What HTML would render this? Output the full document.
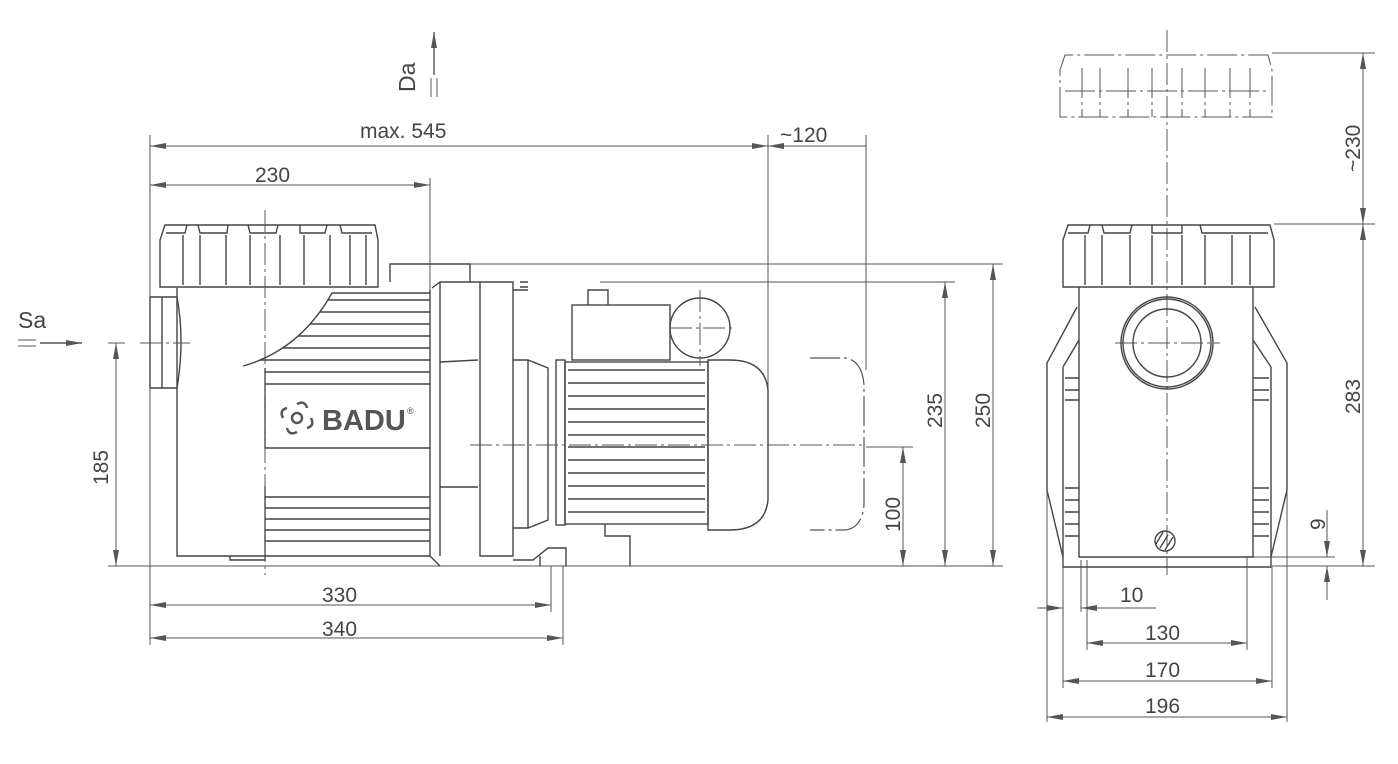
<!DOCTYPE html>
<html><head><meta charset="utf-8"><style>
html,body{margin:0;padding:0;background:#fff}
svg{display:block}
text{font-family:"Liberation Sans",sans-serif;fill:#444;font-size:21px}
</style></head><body>
<svg width="1398" height="764" viewBox="0 0 1398 764" xmlns="http://www.w3.org/2000/svg">
<defs>
<marker id="a" viewBox="0 0 16 6" refX="16" refY="3" markerWidth="16" markerHeight="6" orient="auto-start-reverse" markerUnits="userSpaceOnUse"><path d="M0,0L16,3L0,6z" fill="#555"/></marker>
<clipPath id="vc"><path d="M243,366 Q300,350 332,293 L430,293 L430,560 L243,560 Z"/></clipPath>
</defs>
<g stroke="#555" stroke-width="1" fill="none">
<line x1="150" y1="135" x2="150" y2="645"/>
<line x1="430" y1="178" x2="430" y2="290"/>
<line x1="768" y1="135" x2="768" y2="420"/>
<line x1="866" y1="135" x2="866" y2="370"/>
<line x1="108" y1="566" x2="1003" y2="566"/>
<line x1="470" y1="264" x2="1003" y2="264"/>
<line x1="600" y1="282" x2="955" y2="282"/>
<line x1="866" y1="447" x2="913" y2="447"/>
<line x1="108" y1="343" x2="125" y2="343"/>
<line x1="551" y1="566" x2="551" y2="612"/>
<line x1="563" y1="566" x2="563" y2="645"/>
<line x1="150" y1="146" x2="768" y2="146" marker-start="url(#a)" marker-end="url(#a)"/>
<line x1="866" y1="146" x2="768" y2="146" marker-end="url(#a)"/>
<line x1="150" y1="185" x2="430" y2="185" marker-start="url(#a)" marker-end="url(#a)"/>
<line x1="150" y1="605" x2="551" y2="605" marker-start="url(#a)" marker-end="url(#a)"/>
<line x1="150" y1="638" x2="563" y2="638" marker-start="url(#a)" marker-end="url(#a)"/>
<line x1="116" y1="343" x2="116" y2="566" marker-start="url(#a)" marker-end="url(#a)"/>
<line x1="945" y1="282" x2="945" y2="566" marker-start="url(#a)" marker-end="url(#a)"/>
<line x1="993" y1="264" x2="993" y2="566" marker-start="url(#a)" marker-end="url(#a)"/>
<line x1="903" y1="447" x2="903" y2="566" marker-start="url(#a)" marker-end="url(#a)"/>
<line x1="40" y1="343" x2="82" y2="343" marker-end="url(#a)" stroke-width="1.4"/>
<line x1="18" y1="340" x2="36" y2="340"/><line x1="18" y1="346" x2="36" y2="346"/>
<line x1="434" y1="75" x2="434" y2="32" marker-end="url(#a)" stroke-width="1.4"/>
<line x1="431" y1="78" x2="431" y2="97"/><line x1="437" y1="78" x2="437" y2="97"/>
</g>
<g stroke="#444" stroke-width="1.4" fill="none">
<path d="M160,287 L160,240 L165,225 L375,225 L378,240 L378,287 Z"/>
<path d="M166,233 L185,233 L187,225 M198,225 L200,233 L227,233 L228,225 M248,225 L250,233 L276,233 L278,225 M300,225 L300,233 L325,233 L327,225 M340,225 L342,233 L372,233"/>
<path d="M183,235v50M200,235v50M226,235v50M250,235v50M280,235v50M304,235v50M330,235v50M350,235v50M366,235v50"/>
<path d="M150,297 L177,297 Q185,340 177,388 L150,388 Z"/>
<line x1="162" y1="297" x2="162" y2="388"/>
<path d="M177,288 L177,556 L430,556"/>
<path d="M243,366 Q300,350 332,293 L430,293"/>
<path d="M230,556 L230,560 L265,560 L265,556"/>
<path d="M265,368v80h165M265,486v70"/>
<g clip-path="url(#vc)"><path d="M240,300H430M240,312H430M240,324H430M240,336H430M240,348H430M240,360H430M265,372H430M265,384H430"/></g>
<path d="M265,497H430M265,508H430M265,519H430M265,530H430M265,541H430"/>
<path d="M390,282 L390,264 L470,264 L470,282"/>
<path d="M432,288 L440,282 L513,282 L513,556 L480,556 L480,282 M430,290 L430,556 L440,566"/>
<path d="M440,282 L440,556 M440,362 L478,360 M440,487 L478,487"/>
<path d="M513,290 L528,290 M520,282 h8 M520,287h8 M513,560h20 L548,548 L566,548 L566,566 M540,556v10"/>
<path d="M513,360 L528,360 L548,368 L548,520 L528,528 L513,528 M528,360 L528,528"/>
<rect x="556" y="360" width="9" height="165"/>
<rect x="565" y="362" width="143" height="162"/>
<path d="M568,370H705M568,383H705M568,396H705M568,409H705M568,422H705M568,435H705M568,447H705M568,460H705M568,473H705M568,486H705M568,499H705M568,512H705"/>
<path d="M708,360 L730,360 Q765,360 768,390 L768,500 Q765,530 730,530 L708,530 Z"/>
<rect x="572" y="305" width="98" height="55"/>
<path d="M588,305 L588,290 L608,290 L608,305"/>
<circle cx="700" cy="328" r="30"/>
<path d="M605,524 L605,536 L630,536 L630,566"/>
</g>
<path d="M810,358 L845,358 Q862,360 864,385 L864,505 Q862,528 845,530 L810,530" stroke="#555" stroke-width="1.2" fill="none" stroke-dasharray="30 4 3 4"/>
<g stroke="#555" stroke-width="1" fill="none" stroke-dasharray="22 4 3 4">
<line x1="265" y1="210" x2="265" y2="575"/>
<line x1="140" y1="343" x2="190" y2="343"/>
<line x1="470" y1="445" x2="866" y2="445"/>
<line x1="700" y1="290" x2="700" y2="366"/>
<line x1="670" y1="328" x2="736" y2="328"/>
<line x1="1167" y1="30" x2="1167" y2="575"/>
<line x1="1115" y1="343" x2="1220" y2="343"/>
</g>
<text x="322" y="430" style="font-size:29px;font-weight:bold;fill:#555">BADU</text>
<text x="407" y="414" style="font-size:9px">®</text>
<g stroke="#555" stroke-width="2.5" fill="none">
<circle cx="297" cy="418" r="5"/>
<path d="M297,404 q8,-4 10,4 M311,418 q4,8 -4,10 M297,432 q-8,4 -10,-4 M283,418 q-4,-8 4,-10"/>
</g>
<g stroke="#444" stroke-width="1.4" fill="none">
<path d="M1063,287 L1063,240 L1068,225 L1270,225 L1274,240 L1274,287 Z"/>
<path d="M1068,233 L1088,233 L1090,225 M1102,225 L1104,233 L1130,233 L1132,225 M1152,225 L1152,233 L1182,233 L1182,225 M1200,225 L1202,233 L1268,233"/>
<path d="M1085,235v50M1102,235v50M1130,235v50M1152,235v50M1182,235v50M1205,235v50M1232,235v50M1250,235v50"/>
<path d="M1079,287 L1079,557 L1253,557 L1253,287"/>
<circle cx="1167" cy="343" r="46"/><circle cx="1167" cy="343" r="44"/><circle cx="1167" cy="343" r="34"/>
<path d="M1077,307 L1047,363 L1047,490 L1063,557 M1063,367 L1063,557 M1079,340 L1063,367"/>
<path d="M1255,307 L1287,363 L1287,490 L1271,557 M1271,367 L1271,557 M1253,340 L1271,367"/>
<path d="M1063,557 L1063,567 L1271,567 L1271,557"/>
<path d="M1065,378H1079M1065,390H1079M1065,400H1079M1065,488H1079M1065,500H1079M1065,512H1079M1065,524H1079M1065,536H1079M1253,378H1269M1253,390H1269M1253,400H1269M1253,488H1269M1253,500H1269M1253,512H1269M1253,524H1269M1253,536H1269"/>
<circle cx="1165" cy="541" r="10"/>
<path d="M1160,548l8,-13M1165,550l8,-13M1156,544l7,-12"/>
</g>
<g stroke="#555" stroke-width="1" fill="none" stroke-dasharray="30 4 3 4">
<path d="M1060,117 L1060,70 L1065,55 L1268,55 L1272,70 L1272,117 Z"/>
<path d="M1082,68v49M1100,68v49M1128,68v49M1152,68v49M1182,68v49M1205,68v49M1230,68v49M1250,68v49M1065,91H1270"/>
</g>
<g stroke="#555" stroke-width="1" fill="none">
<line x1="1272" y1="53" x2="1375" y2="53"/>
<line x1="1274" y1="224" x2="1375" y2="224"/>
<line x1="1253" y1="557" x2="1335" y2="557"/>
<line x1="1272" y1="566" x2="1375" y2="566"/>
<line x1="1363" y1="53" x2="1363" y2="224" marker-start="url(#a)" marker-end="url(#a)"/>
<line x1="1363" y1="224" x2="1363" y2="566" marker-start="url(#a)" marker-end="url(#a)"/>
<line x1="1327" y1="510" x2="1327" y2="557" marker-end="url(#a)"/>
<line x1="1327" y1="600" x2="1327" y2="566" marker-end="url(#a)"/>
<line x1="1047" y1="490" x2="1047" y2="722"/>
<line x1="1063" y1="567" x2="1063" y2="688"/>
<line x1="1081" y1="560" x2="1081" y2="612"/>
<line x1="1087" y1="560" x2="1087" y2="650"/>
<line x1="1247" y1="557" x2="1247" y2="650"/>
<line x1="1272" y1="567" x2="1272" y2="688"/>
<line x1="1287" y1="490" x2="1287" y2="722"/>
<line x1="1037" y1="608" x2="1063" y2="608" marker-end="url(#a)"/>
<line x1="1156" y1="608" x2="1081" y2="608" marker-end="url(#a)"/>
<line x1="1087" y1="643" x2="1247" y2="643" marker-start="url(#a)" marker-end="url(#a)"/>
<line x1="1063" y1="681" x2="1272" y2="681" marker-start="url(#a)" marker-end="url(#a)"/>
<line x1="1047" y1="717" x2="1287" y2="717" marker-start="url(#a)" marker-end="url(#a)"/>
</g>
<text x="360" y="138">max. 545</text>
<text x="780" y="142">~120</text>
<text x="255" y="182">230</text>
<text x="322" y="602">330</text>
<text x="322" y="636">340</text>
<text x="18" y="328" style="font-size:23px">Sa</text>
<text transform="translate(415,92) rotate(-90)" style="font-size:23px">Da</text>
<text transform="translate(108,485) rotate(-90)">185</text>
<text transform="translate(942,428) rotate(-90)">235</text>
<text transform="translate(990,428) rotate(-90)">250</text>
<text transform="translate(900,532) rotate(-90)">100</text>
<text transform="translate(1360,172) rotate(-90)">~230</text>
<text transform="translate(1360,414) rotate(-90)">283</text>
<text transform="translate(1325,530) rotate(-90)">9</text>
<text x="1120" y="602">10</text>
<text x="1145" y="640">130</text>
<text x="1145" y="677">170</text>
<text x="1145" y="713">196</text>
</svg>
</body></html>
